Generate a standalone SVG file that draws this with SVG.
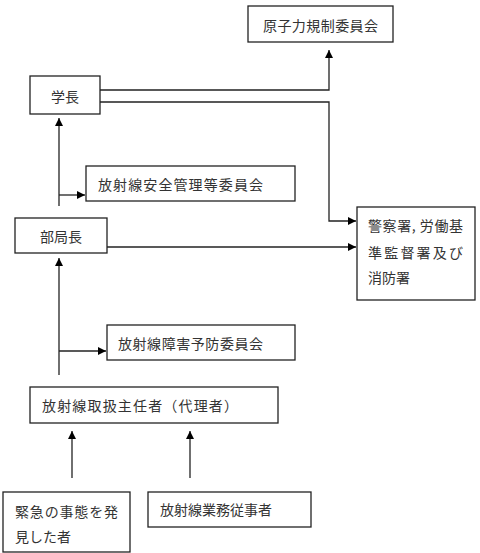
<svg xmlns="http://www.w3.org/2000/svg" width="480" height="553" viewBox="0 0 480 553">
<style>
.box{fill:#fff;stroke:#222;stroke-width:1.3}
.t{font-family:"Noto Sans CJK JP","Noto Sans CJK SC",sans-serif;font-size:14px;fill:#333}
.c{fill:none;stroke:#222;stroke-width:1.3}
</style>
<defs>
<marker id="ah" viewBox="0 0 10 10" refX="10" refY="5" markerWidth="8" markerHeight="8" markerUnits="userSpaceOnUse" orient="auto">
<path d="M0,0 L10,5 L0,10 z" fill="#000"/>
</marker>
</defs>
<rect width="480" height="553" fill="#fff"/>
<g id="connectors">
<path class="c" d="M100,90 H329 V50" marker-end="url(#ah)"/>
<path class="c" d="M100,102 H329 V221 H356" marker-end="url(#ah)"/>
<path class="c" d="M107,247 H356" marker-end="url(#ah)"/>
<path class="c" d="M59,206 V118" marker-end="url(#ah)"/>
<path class="c" d="M59,195 H85" marker-end="url(#ah)"/>
<path class="c" d="M59,375 V258" marker-end="url(#ah)"/>
<path class="c" d="M59,351 H106" marker-end="url(#ah)"/>
<path class="c" d="M72,478 V431" marker-end="url(#ah)"/>
<path class="c" d="M190,478 V431" marker-end="url(#ah)"/>
</g>
<g id="n-nra">
<rect class="box" x="248" y="6" width="145" height="36"/>
<text class="t" x="263" y="31" textLength="115">原子力規制委員会</text>
</g>
<g id="n-president">
<rect class="box" x="30" y="76" width="70" height="38"/>
<text class="t" x="51" y="102">学長</text>
</g>
<g id="n-safety">
<rect class="box" x="86" y="166" width="209" height="35"/>
<text class="t" x="98" y="190" textLength="165">放射線安全管理等委員会</text>
</g>
<g id="n-dept">
<rect class="box" x="15" y="218" width="92" height="35"/>
<text class="t" x="40" y="242">部局長</text>
</g>
<g id="n-police">
<rect class="box" x="357" y="207" width="118" height="93"/>
<text class="t" x="368" y="231" textLength="95" lengthAdjust="spacing">警察署, 労働基</text>
<text class="t" x="368" y="258" textLength="95" lengthAdjust="spacing">準監督署及び</text>
<text class="t" x="368" y="283">消防署</text>
</g>
<g id="n-prevention">
<rect class="box" x="107" y="325" width="188" height="35"/>
<text class="t" x="118" y="349" textLength="145">放射線障害予防委員会</text>
</g>
<g id="n-supervisor">
<rect class="box" x="30" y="387" width="248" height="36"/>
<text class="t" x="42" y="411" textLength="196">放射線取扱主任者（代理者）</text>
</g>
<g id="n-finder">
<rect class="box" x="3" y="492" width="127" height="60"/>
<text class="t" x="15" y="517" textLength="103" lengthAdjust="spacing">緊急の事態を発</text>
<text class="t" x="15" y="542">見した者</text>
</g>
<g id="n-workers">
<rect class="box" x="148" y="492" width="163" height="35"/>
<text class="t" x="160" y="515">放射線業務従事者</text>
</g>
</svg>
